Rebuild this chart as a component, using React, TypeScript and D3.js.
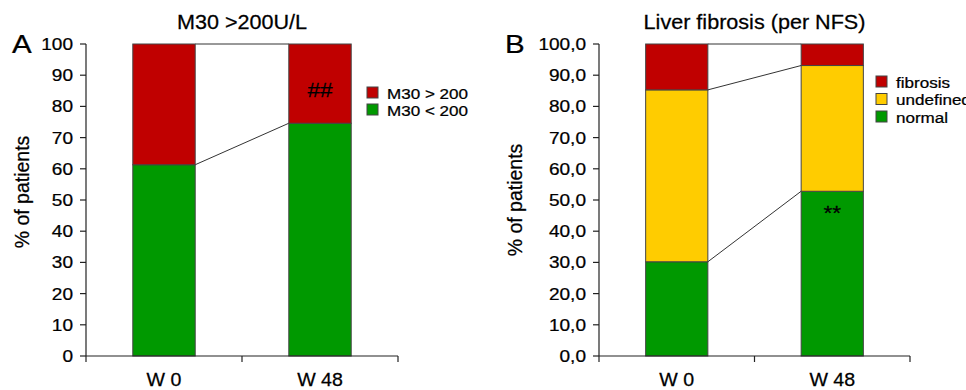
import React from "react";
import * as d3 from "d3";

const weeks = ["W 0", "W 48"];
const yTicks = [0, 10, 20, 30, 40, 50, 60, 70, 80, 90, 100];

// Panel A: M30 >200U/L (stack bottom -> top)
const m30Keys = ["M30 < 200", "M30 > 200"];
const m30Below = [61.3, 74.6];
const m30Above = [38.7, 25.4];

// Panel B: Liver fibrosis (per NFS) (stack bottom -> top)
const nfsKeys = ["normal", "undefined", "fibrosis"];
const nfsNormal = [30.2, 52.8];
const nfsUndefined = [55.1, 40.3];
const nfsFibrosis = [14.7, 6.9];

const RED = "#C00000";
const GREEN = "#009900";
const YELLOW = "#FFCC00";
const FONT = "'Liberation Sans', Arial, Helvetica, sans-serif";

type TProps = {
  x: number; y: number; sx?: number; size: number; anchor?: string; rotate?: number; children: React.ReactNode;
};
function T({ x, y, sx = 1, size, anchor = "start", rotate = 0, children }: TProps) {
  return (
    <text
      transform={`translate(${x},${y}) rotate(${rotate}) scale(${sx},1)`}
      fontSize={size}
      textAnchor={anchor}
      fontFamily={FONT}
      fill="#000"
      stroke="#000"
      strokeWidth={0.25}
    >
      {children}
    </text>
  );
}

type PanelProps = {
  left: number; right: number; letter: string; letterX: number; title: string;
  keys: string[]; series: number[][]; colors: string[];
  tickFmt: (v: number) => string;
  yTitleX: number; yTitleY: number;
  legendX: number; legendY: number; legendStep: number;
  mark: string; markIdx: number; markY: number;
};

function Panel(p: PanelProps) {
  const top = 44, bottom = 356;
  const y = d3.scaleLinear().domain([0, 100]).range([bottom, top]);
  const x = d3.scaleBand<string>().domain(weeks).range([p.left, p.right]).paddingInner(0.6).paddingOuter(0.3);
  const bw = x.bandwidth();
  const rows = weeks.map((w, i) => {
    const r: any = { week: w };
    p.keys.forEach((k, j) => (r[k] = p.series[j][i]));
    return r;
  });
  const stacked = d3.stack<any>().keys(p.keys)(rows);
  const cx = (w: string) => (x(w) as number) + bw / 2;
  const legendOrder = p.keys.map((k, j) => ({ k, c: p.colors[j] })).reverse();
  return (
    <g>
      <T x={(p.left + p.right) / 2} y={29} size={20} sx={1.08} anchor="middle">{p.title}</T>
      <T x={p.letterX} y={53} size={25} sx={1.18}>{p.letter}</T>
      <T x={p.yTitleX} y={p.yTitleY} size={19.5} anchor="middle" rotate={-90}>% of patients</T>
      {/* connecting lines */}
      {stacked.map((s, j) => (
        <line key={"c" + j}
          x1={(x(weeks[0]) as number) + bw} y1={y(s[0][1])}
          x2={x(weeks[1]) as number} y2={y(s[1][1])}
          stroke="#333" strokeWidth={1} />
      ))}
      {/* bars */}
      {stacked.map((s, j) =>
        s.map((d, i) => (
          <rect key={j + "-" + i}
            x={x(weeks[i]) as number} width={bw}
            y={y(d[1])} height={y(d[0]) - y(d[1])}
            fill={p.colors[j]} stroke="#444" strokeWidth={1} />
        ))
      )}
      {/* y axis */}
      <line x1={p.left} x2={p.left} y1={top} y2={bottom} stroke="#222" strokeWidth={1.2} />
      {yTicks.map((t) => (
        <g key={t}>
          <line x1={p.left - 6} x2={p.left} y1={y(t)} y2={y(t)} stroke="#222" strokeWidth={1.2} />
          <T x={p.left - 13} y={y(t) + 6} size={17} sx={1.12} anchor="end">{p.tickFmt(t)}</T>
        </g>
      ))}
      {/* x axis */}
      <line x1={p.left} x2={p.right} y1={bottom} y2={bottom} stroke="#222" strokeWidth={1.2} />
      {[p.left, (p.left + p.right) / 2, p.right].map((tx, i) => (
        <line key={i} x1={tx} x2={tx} y1={bottom} y2={bottom + 6} stroke="#222" strokeWidth={1.2} />
      ))}
      {weeks.map((w) => (
        <T key={w} x={cx(w)} y={386} size={18.5} sx={1.06} anchor="middle">{w}</T>
      ))}
      {/* annotation */}
      <T x={cx(weeks[p.markIdx])} y={p.markY} size={21} sx={1.08} anchor="middle">{p.mark}</T>
      {/* legend */}
      {legendOrder.map((l, i) => (
        <g key={l.k}>
          <rect x={p.legendX} y={p.legendY + i * p.legendStep} width={11} height={11}
            fill={l.c} stroke="#444" strokeWidth={1} />
          <T x={p.legendX + 20} y={p.legendY + i * p.legendStep + 11.5} size={15.5} sx={1.1}>{l.k}</T>
        </g>
      ))}
    </g>
  );
}

export default function App() {
  return (
    <svg width={966} height={390} style={{ position: "absolute", left: 0, top: 0, background: "#fff" }}>
      <rect width={966} height={390} fill="#fff" />
      <Panel
        left={86} right={398} letter="A" letterX={12} title="M30 >200U/L"
        keys={m30Keys} series={[m30Below, m30Above]} colors={[GREEN, RED]}
        tickFmt={(v) => String(v)}
        yTitleX={29} yTitleY={192}
        legendX={367} legendY={87} legendStep={17}
        mark="##" markIdx={1} markY={97}
      />
      <Panel
        left={599} right={910} letter="B" letterX={505} title="Liver fibrosis (per NFS)"
        keys={nfsKeys} series={[nfsNormal, nfsUndefined, nfsFibrosis]} colors={[GREEN, YELLOW, RED]}
        tickFmt={(v) => v.toFixed(1).replace(".", ",")}
        yTitleX={522} yTitleY={200}
        legendX={876} legendY={76} legendStep={17.5}
        mark="**" markIdx={1} markY={220}
      />
    </svg>
  );
}
